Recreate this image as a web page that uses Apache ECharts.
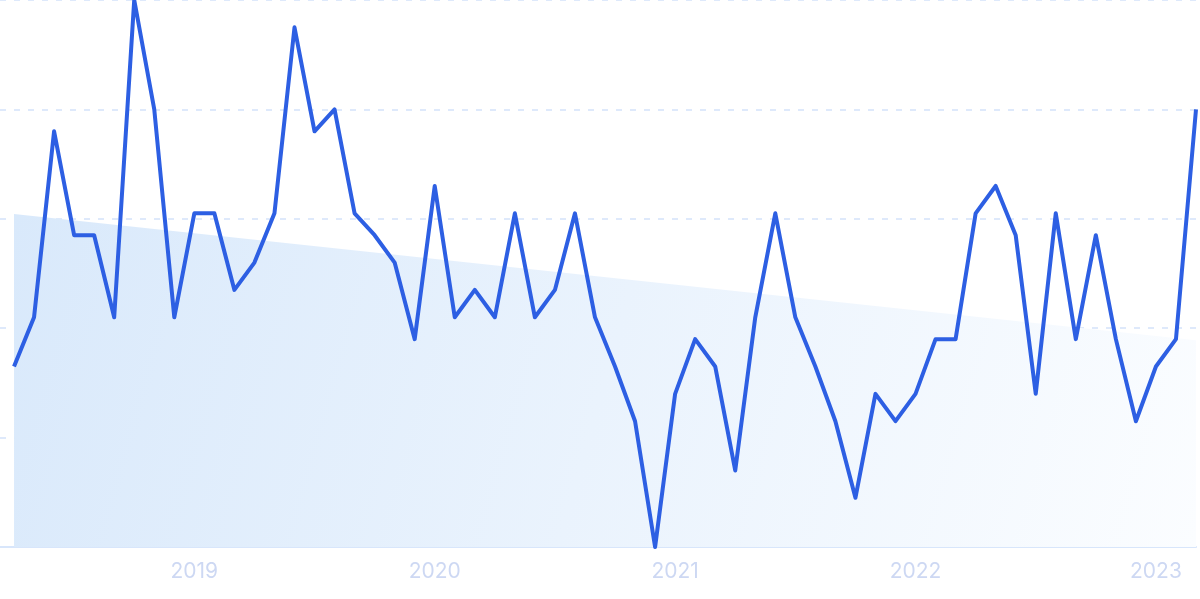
<!DOCTYPE html>
<html>
<head>
<meta charset="utf-8">
<style>
html,body{margin:0;padding:0;background:#fff;}
#chart{width:1200px;height:599px;}
</style>
<script src="https://cdn.jsdelivr.net/npm/echarts@6/dist/echarts.min.js"></script>
</head>
<body>
<div id="chart"></div>
<script>
const months = [
 '2018-04','2018-05','2018-06','2018-07','2018-08','2018-09','2018-10','2018-11','2018-12',
 '2019-01','2019-02','2019-03','2019-04','2019-05','2019-06','2019-07','2019-08','2019-09','2019-10','2019-11','2019-12',
 '2020-01','2020-02','2020-03','2020-04','2020-05','2020-06','2020-07','2020-08','2020-09','2020-10','2020-11','2020-12',
 '2021-01','2021-02','2021-03','2021-04','2021-05','2021-06','2021-07','2021-08','2021-09','2021-10','2021-11','2021-12',
 '2022-01','2022-02','2022-03','2022-04','2022-05','2022-06','2022-07','2022-08','2022-09','2022-10','2022-11','2022-12',
 '2023-01','2023-02','2023-03'
];
const values = [
 33,42,76,57,57,42,100,80,42,
 61,61,47,52,61,95,76,80,61,57,52,38,
 66,42,47,42,61,42,47,61,42,33,23,0,
 28,38,33,14,42,61,42,33,23,9,28,23,
 28,38,38,61,66,57,28,61,38,57,38,23,
 33,38,80
];
const trendStart = 60.9;
const trendEnd = 37.8;
const tickLabels = ['2019','2020','2021','2022','2023'];
const tickMonths = ['2019-01','2020-01','2021-01','2022-01','2023-01'];

const lineData = values.map((v,i)=>[i,v]);
const last = values.length-1;
const trendData = [[0,trendStart],[last,trendEnd]];
const tickIdx = tickMonths.map(m=>months.indexOf(m));

const chart = echarts.init(document.getElementById('chart'));
chart.setOption({
  animation:false,
  grid:{left:0,right:4,top:0,bottom:52,containLabel:false},
  xAxis:{
    type:'value', min:-0.7, max:last,
    axisLine:{show:true,lineStyle:{color:'#d8e6fb',width:2}},
    axisTick:{show:false},
    splitLine:{show:false},
    axisLabel:{
      customValues:tickIdx,
      formatter:(v)=>tickLabels[tickIdx.indexOf(Math.round(v))] || '',
      color:'#cdd8f3', fontSize:21, fontFamily:'Inter, Roboto, sans-serif', margin:14
    }
  },
  yAxis:{
    type:'value', min:0, max:100, interval:20,
    axisLine:{show:false}, axisTick:{show:false}, axisLabel:{show:false},
    splitLine:{show:true,lineStyle:{color:'#d3e2fa',width:1.5,type:[6,8]}}
  },
  series:[
    {
      type:'line', data:trendData, symbol:'none', silent:true,
      lineStyle:{width:0},
      areaStyle:{opacity:1,color:new echarts.graphic.LinearGradient(0,0,1,1,[
        {offset:0,color:'#d9e9fb'},{offset:1,color:'#fbfdff'}])},
      z:1
    },
    {
      type:'line', data:lineData, symbol:'none', smooth:false,
      lineStyle:{color:'#2d5fe3',width:4,join:'round'},
      z:3
    }
  ]
});
</script>
</body>
</html>
